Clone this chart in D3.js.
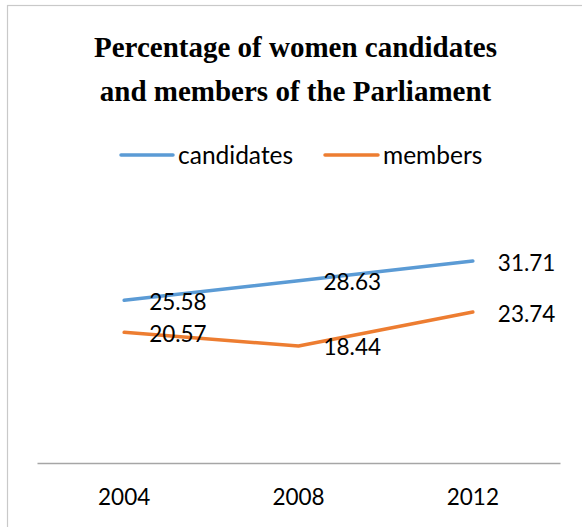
<!DOCTYPE html>
<html>
<head>
<meta charset="utf-8">
<script src="https://cdn.jsdelivr.net/npm/d3@7"></script>
<style>
  html, body { margin: 0; padding: 0; background: #fff; }
  svg { display: block; }
</style>
</head>
<body>
<svg id="chart" width="582" height="527"></svg>
<script>
// Election years on the category axis
const years = ["2004", "2008", "2012"];
// Share of women among candidates (%)
const candidates = [25.58, 28.63, 31.71];
// Share of women among elected members (%)
const members = [20.57, 18.44, 23.74];
const seriesNames = ["candidates", "members"];
const seriesColors = ["#5B9BD5", "#ED7D31"];
const titleLines = ["Percentage of women candidates", "and members of the Parliament"];

const svg = d3.select("#chart");

// chart frame
svg.append("rect")
  .attr("x", 7.5).attr("y", 5.5)
  .attr("width", 580).attr("height", 530)
  .attr("fill", "#fff")
  .attr("stroke", "#c9c9c9")
  .attr("stroke-width", 1.2);

// title
const title = svg.append("text")
  .attr("text-anchor", "middle")
  .attr("font-family", "'Liberation Serif', 'Times New Roman', serif")
  .attr("font-weight", "bold")
  .attr("font-size", 29)
  .attr("fill", "#000");
titleLines.forEach((t, i) => {
  title.append("tspan").attr("x", 295.5).attr("y", 57 + i * 44).text(t);
});

const sans = "Lato, 'Open Sans', sans-serif";

// scales
const x = d3.scaleBand().domain(years).range([37, 560]).padding(0);
const y = d3.scaleLinear().domain([0, 35]).range([464, 240]);

// category axis
const xAxis = d3.axisBottom(x).tickSize(0).tickPadding(26);
const gx = svg.append("g").attr("transform", "translate(0,463)").call(xAxis);
gx.select(".domain").attr("stroke", "#a6a6a6").attr("stroke-width", 1.5);
gx.selectAll("text")
  .attr("font-family", sans)
  .attr("font-size", 22.5)
  .attr("fill", "#000");

// series
const series = [candidates, members];
const line = d3.line()
  .x((d, i) => x(years[i]) + x.bandwidth() / 2)
  .y(d => y(d));

series.forEach((vals, si) => {
  svg.append("path")
    .datum(vals)
    .attr("d", line)
    .attr("fill", "none")
    .attr("stroke", seriesColors[si])
    .attr("stroke-width", 3.5)
    .attr("stroke-linejoin", "round")
    .attr("stroke-linecap", "round");
});

// value labels, to the right of each point
series.forEach((vals, si) => {
  svg.append("g").selectAll("text")
    .data(vals)
    .join("text")
    .attr("x", (d, i) => x(years[i]) + x.bandwidth() / 2 + 25)
    .attr("y", d => y(d) + 9.5)
    .attr("font-family", sans)
    .attr("font-size", 22.5)
    .attr("fill", "#000")
    .text(d => d.toFixed(2));
});

// legend
const legendItems = [
  { x0: 121, x1: 173, tx: 178 },
  { x0: 325, x1: 378, tx: 383 }
];
const legend = svg.append("g");
seriesNames.forEach((name, i) => {
  const it = legendItems[i];
  legend.append("line")
    .attr("x1", it.x0).attr("x2", it.x1)
    .attr("y1", 155).attr("y2", 155)
    .attr("stroke", seriesColors[i])
    .attr("stroke-width", 3.5)
    .attr("stroke-linecap", "round");
  legend.append("text")
    .attr("x", it.tx).attr("y", 164)
    .attr("font-family", sans)
    .attr("font-size", 24.5)
    .attr("fill", "#000")
    .text(name);
});
</script>
</body>
</html>
